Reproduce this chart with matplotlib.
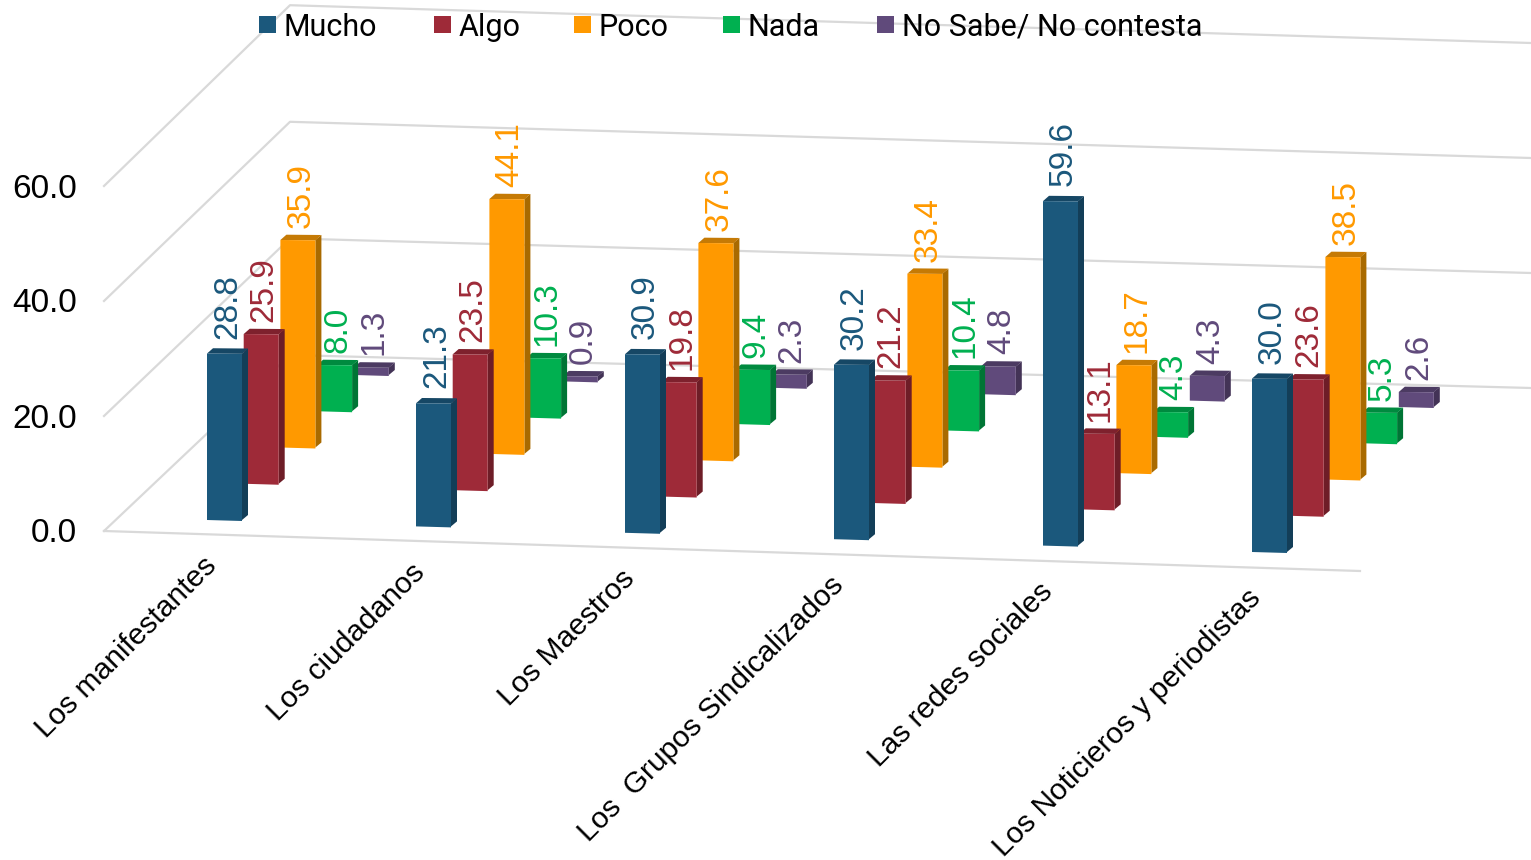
import matplotlib
matplotlib.use('Agg')
import matplotlib.pyplot as plt
from matplotlib.patches import Polygon, Rectangle

categories = ['Los manifestantes', 'Los ciudadanos', 'Los Maestros',
              'Los  Grupos Sindicalizados', 'Las redes sociales',
              'Los Noticieros y periodistas']
series_names = ['Mucho', 'Algo', 'Poco', 'Nada', 'No Sabe/ No contesta']
mucho = [28.8, 21.3, 30.9, 30.2, 59.6, 30.0]
algo = [25.9, 23.5, 19.8, 21.2, 13.1, 23.6]
poco = [35.9, 44.1, 37.6, 33.4, 18.7, 38.5]
nada = [8.0, 10.3, 9.4, 10.4, 4.3, 5.3]
no_sabe = [1.3, 0.9, 2.3, 4.8, 4.3, 2.6]
y_ticks = [0, 20, 40, 60]

all_series = [mucho, algo, poco, nada, no_sabe]
front_cols = ['#1B587C', '#9E2A38', '#FF9900', '#00B050', '#604A7B']
side_cols = ['#133E58', '#6E1D27', '#A96A00', '#007535', '#433356']
top_cols = ['#164765', '#7E212D', '#C57A05', '#008A3F', '#4C3B62']
grid_col = '#D9D9D9'

W, H = 1531, 860
BAR_W = 35
DEPTH_X, DEPTH_Y = 6, -5
PX_PER_UNIT = 5.78
LABEL_GAP = [10, 7, 7, 7, 7]


def base_point(cat, ser):
    # front left corner of a bar on the floor, in pixels
    return 207 + 209 * cat + 36.7 * ser, 520 + 6.4 * cat - 36.25 * ser


def draw_bar(ax, cat, ser, val):
    x, y = base_point(cat, ser)
    top = y - val * PX_PER_UNIT
    ax.add_patch(Polygon([(x + BAR_W, y), (x + BAR_W + DEPTH_X, y + DEPTH_Y),
                          (x + BAR_W + DEPTH_X, top + DEPTH_Y), (x + BAR_W, top)],
                         fc=side_cols[ser], ec='none', zorder=3))
    ax.add_patch(Polygon([(x, top), (x + BAR_W, top + 0.3),
                          (x + BAR_W + DEPTH_X, top + DEPTH_Y),
                          (x + DEPTH_X, top + DEPTH_Y - 0.3)],
                         fc=top_cols[ser], ec='none', zorder=3))
    ax.add_patch(Polygon([(x, y), (x + BAR_W, y + 1), (x + BAR_W, top + 0.3), (x, top)],
                         fc=front_cols[ser], ec='none', zorder=3))
    ax.text(x + 20.5, top + DEPTH_Y - LABEL_GAP[ser], f'{val:.1f}', rotation=90,
            ha='center', va='bottom', fontsize=24, family='Liberation Sans',
            color=front_cols[ser], zorder=5)


fig = plt.figure(figsize=(W / 100, H / 100), dpi=100)
ax = fig.add_axes([0, 0, 1, 1])
ax.set_xlim(0, W)
ax.set_ylim(H, 0)
ax.axis('off')

# walls and floor gridlines
for i, t in enumerate(y_ticks):
    yl = 531 - t * 5.75
    yb = 355 - t * 5.83
    yr = 388 - t * 5.75
    ax.plot([104, 290, W], [yl, yb, yr], color=grid_col, lw=1.6, zorder=1)
    ax.text(77, yl + 3, f'{t:.1f}', ha='right', va='center', fontsize=24,
            family='Liberation Sans', color='black')
ax.plot([104, 1360], [531, 571], color=grid_col, lw=1.6, zorder=1)

for c in range(len(categories)):
    for s in reversed(range(len(all_series))):
        draw_bar(ax, c, s, all_series[s][c])

# category labels
for c, name in enumerate(categories):
    ax.text(202 + 209 * c, 552 + 6.4 * c, name, rotation=45, rotation_mode='anchor',
            ha='right', va='top', fontsize=21.5, family='Liberation Sans', color='black')

# legend
leg_box_x = [259, 434, 574, 723, 877]
for s, name in enumerate(series_names):
    ax.add_patch(Rectangle((leg_box_x[s], 16), 17, 17, fc=front_cols[s], ec='none', zorder=4))
    ax.text(leg_box_x[s] + 24.5, 36, name, ha='left', va='baseline', fontsize=22,
            family='Roboto', color='black', zorder=5)

fig.savefig('out.png', dpi=100)
